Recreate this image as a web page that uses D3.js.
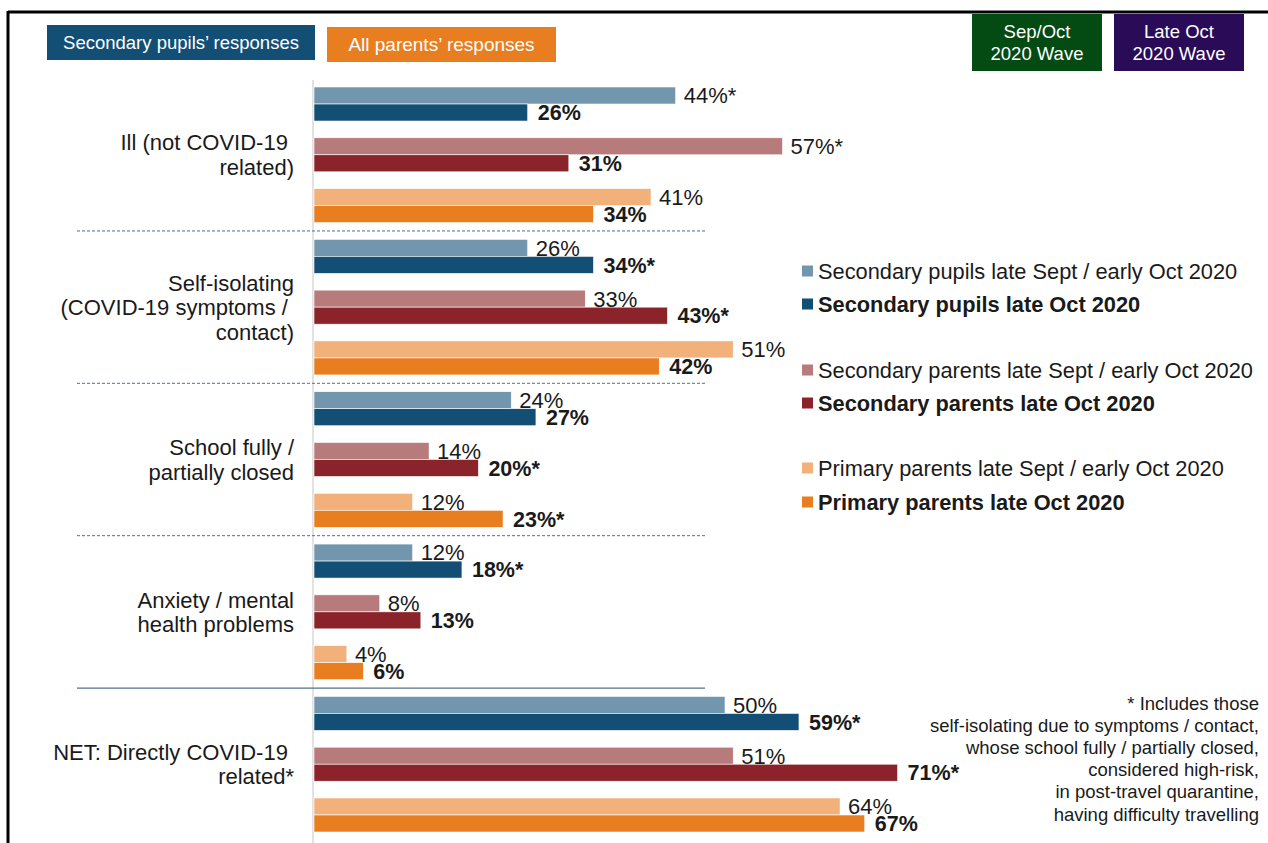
<!DOCTYPE html>
<html>
<head>
<meta charset="utf-8">
<script src="https://cdn.jsdelivr.net/npm/d3@7"></script>
<style>
  html, body { margin: 0; padding: 0; background: #ffffff; }
  svg { display: block; font-family: Arial, "Liberation Sans", sans-serif; }
</style>
</head>
<body>
<div id="chart"></div>
<script>
  // categories, top to bottom (trailing nbsp kept as in the original labels)
  const categories = [
    ['Ill (not COVID-19\u00a0', 'related)'],
    ['Self-isolating', '(COVID-19 symptoms /\u00a0', 'contact)'],
    ['School fully /', 'partially closed'],
    ['Anxiety / mental', 'health problems'],
    ['NET: Directly COVID-19\u00a0', 'related*']
  ];

  // audiences within each category
  const audiences = ['pupils', 'secParents', 'priParents'];

  // values per category, Sep/Oct wave then late Oct wave
  const pupilsEarly = [44, 26, 24, 12, 50];
  const pupilsLate = [26, 34, 27, 18, 59];
  const secParentsEarly = [57, 33, 14, 8, 51];
  const secParentsLate = [31, 43, 20, 13, 71];
  const priParentsEarly = [41, 51, 12, 4, 64];
  const priParentsLate = [34, 42, 23, 6, 67];

  // significance flags (asterisk after the label)
  const pupilsEarlySig = [true, false, false, false, false];
  const pupilsLateSig = [false, true, false, true, true];
  const secParentsEarlySig = [true, false, false, false, false];
  const secParentsLateSig = [false, true, true, false, true];
  const priParentsEarlySig = [false, false, false, false, false];
  const priParentsLateSig = [false, false, true, false, false];

  const legendLabels = [
    'Secondary pupils late Sept / early Oct 2020',
    'Secondary pupils late Oct 2020',
    'Secondary parents late Sept / early Oct 2020',
    'Secondary parents late Oct 2020',
    'Primary parents late Sept / early Oct 2020',
    'Primary parents late Oct 2020'
  ];

  const footnoteLines = [
    '* Includes those',
    'self-isolating due to symptoms / contact,',
    'whose school fully / partially closed,',
    'considered high-risk,',
    'in post-travel quarantine,',
    'having difficulty travelling'
  ];

  const colors = {
    pupils: ['#7196ae', '#134f74'],
    secParents: ['#b87b7b', '#8a232a'],
    priParents: ['#f2b17b', '#e87e1f']
  };

  const series = {
    pupils: [pupilsEarly, pupilsLate, pupilsEarlySig, pupilsLateSig],
    secParents: [secParentsEarly, secParentsLate, secParentsEarlySig, secParentsLateSig],
    priParents: [priParentsEarly, priParentsLate, priParentsEarlySig, priParentsLateSig]
  };

  const width = 1268;
  const height = 843;

  const svg = d3.select('#chart').append('svg')
    .attr('width', width)
    .attr('height', height);

  // frame: top and left rules
  svg.append('line').attr('x1', 8).attr('x2', width).attr('y1', 12).attr('y2', 12)
    .attr('stroke', '#000').attr('stroke-width', 3);
  svg.append('line').attr('x1', 8).attr('x2', 8).attr('y1', 11).attr('y2', height)
    .attr('stroke', '#000').attr('stroke-width', 3);

  // build one row per category/audience pair
  const rows = [];
  categories.forEach((c, ci) => {
    audiences.forEach(a => {
      rows.push({
        key: ci + '-' + a,
        cat: ci,
        aud: a,
        early: series[a][0][ci],
        late: series[a][1][ci],
        earlySig: series[a][2][ci],
        lateSig: series[a][3][ci]
      });
    });
  });

  const x = d3.scaleLinear().domain([0, 100]).range([314, 314 + 822]);
  const y = d3.scaleBand()
    .domain(rows.map(r => r.key))
    .range([87, 832])
    .paddingInner(0.33)
    .paddingOuter(0);
  const barH = y.bandwidth() / 2;

  // zero axis line
  svg.append('line')
    .attr('x1', x(0) - 1).attr('x2', x(0) - 1)
    .attr('y1', 80).attr('y2', height)
    .attr('stroke', '#d9d9d9').attr('stroke-width', 1.5);

  // separators between categories
  const sepG = svg.append('g');
  categories.forEach((c, ci) => {
    if (ci === 0) return;
    const prevKey = (ci - 1) + '-' + audiences[2];
    const nextKey = ci + '-' + audiences[0];
    const sy = (y(prevKey) + y.bandwidth() + y(nextKey)) / 2;
    const solid = ci === categories.length - 1;
    sepG.append('line')
      .attr('x1', 77).attr('x2', 705)
      .attr('y1', sy).attr('y2', sy)
      .attr('stroke', '#4f7189')
      .attr('stroke-width', solid ? 1.3 : 1)
      .attr('stroke-dasharray', solid ? null : '3,2');
  });

  // bars
  const barG = svg.append('g');
  rows.forEach(r => {
    const top = y(r.key);
    barG.append('rect')
      .attr('x', x(0)).attr('y', top)
      .attr('width', x(r.early) - x(0)).attr('height', barH)
      .attr('fill', colors[r.aud][0])
      .attr('stroke', '#fff').attr('stroke-width', 0.6);
    barG.append('rect')
      .attr('x', x(0)).attr('y', top + barH)
      .attr('width', x(r.late) - x(0)).attr('height', barH)
      .attr('fill', colors[r.aud][1])
      .attr('stroke', '#fff').attr('stroke-width', 0.6);

    barG.append('text')
      .attr('x', x(r.early) + 8).attr('y', top + barH / 2)
      .attr('dy', '0.36em')
      .attr('font-size', 22).attr('fill', '#1a1a1a')
      .text(r.early + '%' + (r.earlySig ? '*' : ''));
    barG.append('text')
      .attr('x', x(r.late) + 10).attr('y', top + barH * 1.5)
      .attr('dy', '0.36em')
      .attr('font-size', 21.5).attr('font-weight', 'bold').attr('fill', '#1a1a1a')
      .text(r.late + '%' + (r.lateSig ? '*' : ''));
  });

  // category labels
  const catG = svg.append('g');
  categories.forEach((lines, ci) => {
    const y0 = y(ci + '-' + audiences[0]);
    const y1 = y(ci + '-' + audiences[2]) + y.bandwidth();
    const cy = (y0 + y1) / 2;
    const lh = 24.5;
    const t = catG.append('text')
      .attr('text-anchor', 'end')
      .attr('font-size', 22).attr('fill', '#1a1a1a');
    lines.forEach((ln, li) => {
      t.append('tspan')
        .attr('x', 294)
        .attr('y', cy + (li - (lines.length - 1) / 2) * lh)
        .attr('dy', '0.36em')
        .text(ln);
    });
  });

  // header boxes
  function box(x0, y0, w, h, fill, lines, size) {
    svg.append('rect').attr('x', x0).attr('y', y0).attr('width', w).attr('height', h).attr('fill', fill);
    const t = svg.append('text').attr('text-anchor', 'middle').attr('font-size', size).attr('fill', '#fff');
    lines.forEach((ln, i) => {
      t.append('tspan')
        .attr('x', x0 + w / 2)
        .attr('y', y0 + h / 2 + (i - (lines.length - 1) / 2) * 22)
        .attr('dy', '0.36em')
        .text(ln);
    });
  }
  box(47, 25, 268, 35, '#134f74', ['Secondary pupils\u2019 responses'], 18.5);
  box(327, 27, 229, 35, '#e87e1f', ['All parents\u2019 responses'], 19);
  box(972, 14, 130, 57, '#034a13', ['Sep/Oct', '2020 Wave'], 18.5);
  box(1114, 14, 130, 57, '#2a0b58', ['Late Oct', '2020 Wave'], 18.5);

  // legend
  const legendY = [271, 304, 370, 403, 468, 502];
  const legendColors = [
    colors.pupils[0], colors.pupils[1],
    colors.secParents[0], colors.secParents[1],
    colors.priParents[0], colors.priParents[1]
  ];
  const legG = svg.append('g');
  legendLabels.forEach((lab, i) => {
    legG.append('rect')
      .attr('x', 802).attr('y', legendY[i] - 5.5)
      .attr('width', 11).attr('height', 11)
      .attr('fill', legendColors[i]);
    legG.append('text')
      .attr('x', 818).attr('y', legendY[i])
      .attr('dy', '0.36em')
      .attr('font-size', 21.8)
      .attr('font-weight', i % 2 === 1 ? 'bold' : 'normal')
      .attr('fill', '#1a1a1a')
      .text(lab);
  });

  // footnote
  const fn = svg.append('text')
    .attr('text-anchor', 'end')
    .attr('font-size', 18.5).attr('fill', '#1a1a1a');
  footnoteLines.forEach((ln, i) => {
    fn.append('tspan')
      .attr('x', 1259)
      .attr('y', 703 + i * 22.2)
      .attr('dy', '0.36em')
      .text(ln);
  });
</script>
</body>
</html>
